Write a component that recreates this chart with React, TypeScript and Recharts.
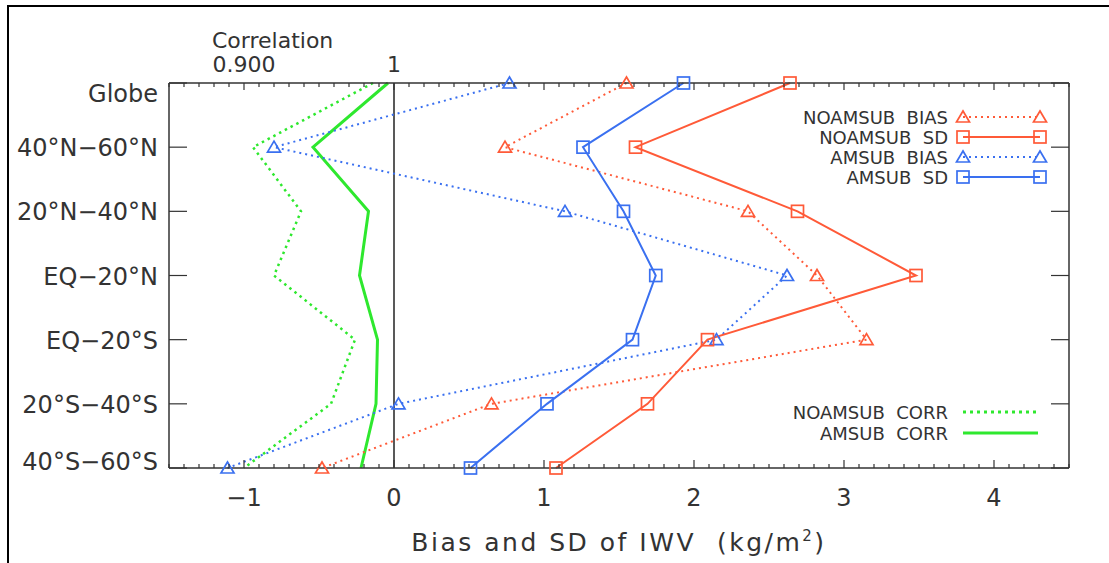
import React from "react";
import { ComposedChart, Line, XAxis, YAxis, ReferenceLine } from "recharts";

const regions = ["Globe", "40°N−60°N", "20°N−40°N", "EQ−20°N", "EQ−20°S", "20°S−40°S", "40°S−60°S"];
const noamsubBias = [1.55, 0.74, 2.36, 2.82, 3.15, 0.65, -0.48];
const noamsubSd = [2.64, 1.61, 2.69, 3.48, 2.09, 1.69, 1.08];
const amsubBias = [0.77, -0.8, 1.14, 2.62, 2.15, 0.03, -1.11];
const amsubSd = [1.93, 1.26, 1.53, 1.745, 1.59, 1.02, 0.51];
const noamsubCorr = [0.986, 0.906, 0.938, 0.92, 0.974, 0.958, 0.9];
const amsubCorr = [0.996, 0.946, 0.983, 0.977, 0.989, 0.988, 0.978];

const biasTicks = Array.from({ length: 61 }, (_, i) => Math.round((-1.5 + i * 0.1) * 10) / 10);
const corrTicks = Array.from({ length: 61 }, (_, i) => Math.round((0.85 + i * 0.01) * 100) / 100);
const biasLabels: Record<string, string> = { "-1": "−1", "0": "0", "1": "1", "2": "2", "3": "3", "4": "4" };
const corrLabels: Record<string, string> = { "0.9": "0.900", "1": "1" };

const RED = "#ff5a38";
const BLUE = "#3a70f0";
const GREEN = "#2ee82e";
const INK = "#333";
const FONT = "'DejaVu Sans', Verdana, sans-serif";
const PRE = { whiteSpace: "pre" as const };

const data = regions.map((region, i) => ({
  region,
  noamsubBias: noamsubBias[i],
  noamsubSd: noamsubSd[i],
  amsubBias: amsubBias[i],
  amsubSd: amsubSd[i],
  noamsubCorr: noamsubCorr[i],
  amsubCorr: amsubCorr[i],
}));

function Tri({ cx, cy, color }: { cx: number; cy: number; color: string }) {
  return (
    <path
      d={`M${cx - 6.5},${cy + 5} L${cx + 6.5},${cy + 5} L${cx},${cy - 6} Z`}
      fill="none"
      stroke={color}
      strokeWidth={1.7}
    />
  );
}

function Sq({ cx, cy, color }: { cx: number; cy: number; color: string }) {
  return <rect x={cx - 6} y={cy - 6} width={12} height={12} fill="none" stroke={color} strokeWidth={1.7} />;
}

const triDot = (color: string) => (p: any) => <Tri key={`t${p.index}`} cx={p.cx} cy={p.cy} color={color} />;
const sqDot = (color: string) => (p: any) => <Sq key={`s${p.index}`} cx={p.cx} cy={p.cy} color={color} />;

function BottomTick(props: any) {
  const { x, y, payload } = props;
  const v = payload.value;
  const major = Math.abs(v - Math.round(v)) < 1e-6;
  const label = biasLabels[String(Math.round(v))];
  return (
    <g>
      <line x1={x} x2={x} y1={y} y2={y - (major ? 8 : 4)} stroke={INK} strokeWidth={1.2} />
      {major && label && (
        <text x={x} y={y + 38} textAnchor="middle" fontSize={24} fill={INK} fontFamily={FONT}>
          {label}
        </text>
      )}
    </g>
  );
}

function TopTick(props: any) {
  const { x, y, payload } = props;
  const v = payload.value;
  const major = Math.abs(v * 10 - Math.round(v * 10)) < 1e-6;
  const label = corrLabels[String(Math.round(v * 10) / 10)];
  return (
    <g>
      <line x1={x} x2={x} y1={y} y2={y + (major ? 7 : 4)} stroke={INK} strokeWidth={1.2} />
      {major && label && (
        <text x={x} y={y - 11} textAnchor="middle" fontSize={22} fill={INK} fontFamily={FONT}>
          {label}
        </text>
      )}
      {major && label === "0.900" && (
        <text x={x - 32} y={y - 35} textAnchor="start" fontSize={22} fill={INK} fontFamily={FONT}>
          Correlation
        </text>
      )}
    </g>
  );
}

function LeftTick(props: any) {
  const { x, y, payload, index } = props;
  const shift = index === 0 ? 10 : index === regions.length - 1 ? -7 : 0;
  return (
    <g>
      <line x1={x} x2={x + 18} y1={y} y2={y} stroke={INK} strokeWidth={1.2} />
      <text x={x - 11} y={y + shift + 9} textAnchor="end" fontSize={24} fill={INK} fontFamily={FONT}>
        {payload.value}
      </text>
    </g>
  );
}

function RightTick(props: any) {
  const { x, y } = props;
  return <line x1={x} x2={x - 18} y1={y} y2={y} stroke={INK} strokeWidth={1.2} />;
}

const topLegend = [
  { label: "NOAMSUB  BIAS", color: RED, mark: "tri", dash: "2 4", y: 117 },
  { label: "NOAMSUB  SD", color: RED, mark: "sq", dash: undefined, y: 137 },
  { label: "AMSUB  BIAS", color: BLUE, mark: "tri", dash: "2 4", y: 157 },
  { label: "AMSUB  SD", color: BLUE, mark: "sq", dash: undefined, y: 177 },
];
const corrLegend = [
  { label: "NOAMSUB  CORR", color: GREEN, dash: "3 4", y: 412 },
  { label: "AMSUB  CORR", color: GREEN, dash: undefined, y: 433 },
];

export default function App() {
  return (
    <div style={{ position: "absolute", left: 0, top: 0, width: 1109, height: 563, background: "#fff" }}>
      <div
        style={{
          position: "absolute",
          left: 7,
          top: 5,
          width: 1102,
          height: 558,
          borderTop: "2px solid #000",
          borderLeft: "2px solid #000",
          boxSizing: "border-box",
        }}
      />
      <ComposedChart
        width={1109}
        height={563}
        data={data}
        layout="vertical"
        margin={{ top: 53, left: 9, right: 30, bottom: 65 }}
        style={{ position: "absolute", left: 0, top: 0 }}
      >
        <XAxis
          xAxisId="bias"
          type="number"
          orientation="bottom"
          domain={[-1.5, 4.5]}
          allowDataOverflow
          ticks={biasTicks}
          interval={0}
          tickSize={0}
          tickMargin={0}
          tickLine={false}
          tick={<BottomTick />}
          height={30}
          axisLine={{ stroke: INK, strokeWidth: 1.5 }}
        />
        <XAxis
          xAxisId="corr"
          type="number"
          orientation="top"
          domain={[0.85, 1.45]}
          allowDataOverflow
          ticks={corrTicks}
          interval={0}
          tickSize={0}
          tickMargin={0}
          tickLine={false}
          tick={<TopTick />}
          height={30}
          axisLine={{ stroke: INK, strokeWidth: 1.5 }}
        />
        <YAxis
          type="category"
          dataKey="region"
          scale="point"
          width={160}
          interval={0}
          tickSize={0}
          tickMargin={0}
          tickLine={false}
          tick={<LeftTick />}
          axisLine={{ stroke: INK, strokeWidth: 1.5 }}
        />
        <YAxis
          yAxisId="r"
          orientation="right"
          type="category"
          dataKey="region"
          scale="point"
          width={10}
          interval={0}
          tickSize={0}
          tickMargin={0}
          tickLine={false}
          tick={<RightTick />}
          axisLine={{ stroke: INK, strokeWidth: 1.5 }}
        />
        <ReferenceLine xAxisId="bias" x={0} stroke="#222" strokeWidth={1.5} />
        <Line xAxisId="corr" dataKey="noamsubCorr" stroke={GREEN} strokeWidth={2.5} strokeDasharray="2.5 4" dot={false} isAnimationActive={false} />
        <Line xAxisId="corr" dataKey="amsubCorr" stroke={GREEN} strokeWidth={3} dot={false} isAnimationActive={false} />
        <Line xAxisId="bias" dataKey="amsubBias" stroke={BLUE} strokeWidth={2} strokeDasharray="2 4" dot={triDot(BLUE)} isAnimationActive={false} />
        <Line xAxisId="bias" dataKey="noamsubBias" stroke={RED} strokeWidth={2} strokeDasharray="2 4" dot={triDot(RED)} isAnimationActive={false} />
        <Line xAxisId="bias" dataKey="amsubSd" stroke={BLUE} strokeWidth={2} dot={sqDot(BLUE)} isAnimationActive={false} />
        <Line xAxisId="bias" dataKey="noamsubSd" stroke={RED} strokeWidth={2} dot={sqDot(RED)} isAnimationActive={false} />
      </ComposedChart>
      <svg width={1109} height={563} style={{ position: "absolute", left: 0, top: 0, pointerEvents: "none" }}>
        {topLegend.map((it) => (
          <g key={it.label}>
            <text x={948} y={it.y + 7} textAnchor="end" fontSize={18} fill={INK} fontFamily={FONT} style={PRE}>
              {it.label}
            </text>
            <line x1={963} x2={1040} y1={it.y} y2={it.y} stroke={it.color} strokeWidth={2} strokeDasharray={it.dash} />
            {it.mark === "tri" ? (
              <>
                <Tri cx={963} cy={it.y} color={it.color} />
                <Tri cx={1040} cy={it.y} color={it.color} />
              </>
            ) : (
              <>
                <Sq cx={963} cy={it.y} color={it.color} />
                <Sq cx={1040} cy={it.y} color={it.color} />
              </>
            )}
          </g>
        ))}
        {corrLegend.map((it) => (
          <g key={it.label}>
            <text x={948} y={it.y + 7} textAnchor="end" fontSize={18} fill={INK} fontFamily={FONT} style={PRE}>
              {it.label}
            </text>
            <line x1={963} x2={1038} y1={it.y} y2={it.y} stroke={it.color} strokeWidth={3} strokeDasharray={it.dash} />
          </g>
        ))}
        <text x={619} y={551} textAnchor="middle" fontSize={25} letterSpacing={2.5} fill={INK} fontFamily={FONT} style={PRE}>
          {"Bias and SD of IWV  (kg/m"}
          <tspan dy={-10} fontSize={15}>2</tspan>
          <tspan dy={10}>)</tspan>
        </text>
      </svg>
    </div>
  );
}
